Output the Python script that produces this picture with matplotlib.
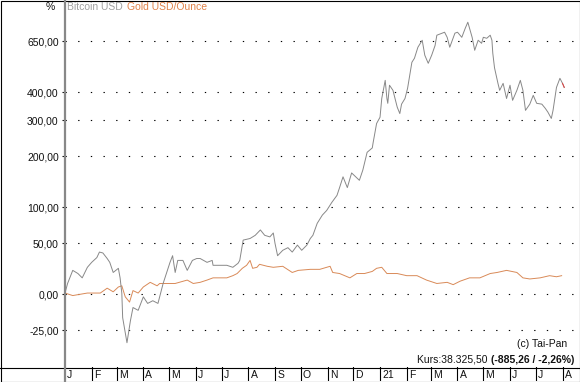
import numpy as np
import matplotlib.pyplot as plt
from matplotlib.lines import Line2D
from matplotlib.patches import Rectangle
from matplotlib.ticker import NullLocator

plt.rcParams['font.family'] = ['Liberation Sans', 'DejaVu Sans']

# Tage seit 01.01.2020 und Veränderung in %
btc_days = [0, 3, 9, 15, 20, 26, 31, 37, 40, 44, 49, 52, 56, 62, 64, 66, 67, 72, 76, 79,
            85, 91, 96, 102, 108, 114, 119, 122, 125, 128, 131, 137, 142, 148, 153, 157, 165, 171, 172, 180,
            188, 195, 201, 203, 207, 215, 221, 227, 232, 238, 242, 244, 247, 253, 259, 264, 270, 275, 281, 285,
            288, 293, 299, 304, 310, 316, 319, 323, 328, 333, 342, 346, 351, 357, 358, 362, 366, 368, 372, 374,
            375, 377, 381, 386, 389, 391, 395, 398, 403, 406, 410, 415, 418, 422, 426, 430, 432, 438, 441, 444,
            447, 453, 456, 461, 465, 468, 473, 476, 480, 484, 486, 490, 494, 496, 497, 499, 503, 505, 509, 513,
            517, 520, 525, 529, 532, 535, 540, 544, 548, 554, 558, 561, 565, 567, 571, 575, 578, 580]
btc_pct = [1, 9, 21, 18, 14, 24, 29, 34, 40, 39, 33, 29, 19, 23, 14, 1, -17, -32, -19, -10,
           -12, -2, -7, -5, -7, 9, 21, 29, 36, 19, 31, 31, 21, 31, 33, 33, 29, 31, 26, 26,
           26, 24, 28, 31, 54, 56, 60, 67, 60, 58, 63, 50, 36, 42, 45, 40, 48, 42, 48, 56,
           60, 76, 88, 95, 108, 120, 134, 155, 134, 163, 148, 169, 210, 221, 235, 290, 310, 376, 450, 376,
           358, 429, 408, 344, 322, 355, 376, 416, 535, 556, 616, 657, 572, 530, 572, 627, 688, 701, 707, 675,
           616, 701, 707, 675, 733, 774, 675, 599, 657, 639, 675, 669, 688, 657, 583, 508, 437, 408, 437, 376,
           429, 369, 408, 450, 408, 333, 355, 388, 358, 355, 340, 327, 306, 333, 420, 459, 437, 420]

gold_days = [0, 9, 26, 41, 49, 56, 62, 66, 70, 75, 79, 85, 91, 99, 107, 110, 118, 128, 142, 149,
             157, 165, 172, 180, 188, 195, 200, 206, 211, 215, 218, 223, 226, 235, 242, 253, 264, 271, 285, 296,
             308, 311, 319, 331, 339, 348, 357, 362, 368, 374, 386, 397, 409, 420, 432, 444, 451, 459, 470, 482,
             494, 502, 513, 525, 532, 540, 552, 563, 571, 577]
gold_pct = [1, -1, 1, 1, 5, 2, 6, 7, -2, -6, 3, 1, 6, 10, 7, 9, 9, 9, 12, 9,
            10, 12, 14, 14, 14, 16, 18, 23, 26, 31, 23, 24, 27, 25, 24, 25, 19, 21, 22, 22,
            25, 19, 18, 14, 18, 18, 20, 23, 24, 18, 18, 16, 16, 12, 9, 10, 8, 11, 14, 14,
            18, 19, 21, 19, 14, 13, 14, 16, 15, 16]

y_ticks = [650, 400, 300, 200, 100, 50, 0, -25]
month_labels = ['J', 'F', 'M', 'A', 'M', 'J', 'J', 'A', 'S', 'O', 'N', 'D',
                '21', 'F', 'M', 'A', 'M', 'J', 'J', 'A']

months = np.arange('2020-01', '2021-09', dtype='datetime64[M]')
month_days = (months.astype('datetime64[D]') - np.datetime64('2020-01-01')).astype(int)

W, H = 580, 382


def fx(px):
    return px / W


def fy(py):
    return 1 - py / H


fig = plt.figure(figsize=(W / 100, H / 100), dpi=100)

ax = fig.add_axes([fx(65), fy(367), fx(578) - fx(65), fy(1) - fy(367)])
ax.set_yscale('log')
btc_ratio = 1 + np.array(btc_pct) / 100
gold_ratio = 1 + np.array(gold_pct) / 100
ax.plot(gold_days, gold_ratio, color='#d98a58', lw=0.7)
ax.plot(btc_days, btc_ratio, color='#888888', lw=0.7)
ax.plot(btc_days[-2:], btc_ratio[-2:], color='#e04040', lw=0.7)

ratio_ticks = 1 + np.array(y_ticks) / 100
for r in ratio_ticks:
    ax.axhline(r, color='black', lw=0.8, linestyle=(0, (1.2, 10.2)), zorder=0)
ax.set_ylim(0.5603, 10.35)
ax.set_xlim(0, 596)
ax.set_yticks(ratio_ticks)
ax.set_yticklabels([f'{v:.2f}'.replace('.', ',') for v in y_ticks])
ax.yaxis.set_minor_locator(NullLocator())
ax.set_xticks([])
ax.tick_params(axis='y', length=2.5, width=0.8, pad=2, labelsize=7.5, colors='#111111')
for s in ax.spines.values():
    s.set_visible(False)

# Monatsleiste
sax = fig.add_axes([fx(65), fy(381), fx(578) - fx(65), fy(367) - fy(381)])
sax.set_xlim(0, 596)
sax.set_ylim(0, 1)
sax.axis('off')
for d, lab in zip(month_days, month_labels):
    if d > 0:
        sax.axvline(d, color='black', lw=0.8)
    sax.text(d + 2.5, 0.45, lab, fontsize=7.5, va='center', ha='left', color='#111111')

# Rahmen und Linien
fig.add_artist(Line2D([0, 1], [fy(367.5), fy(367.5)], color='black', lw=0.8))
fig.add_artist(Line2D([fx(64.5), fx(64.5)], [0, 1], color='#888888', lw=1.6))
fig.add_artist(Rectangle((0.5 / W, 0.5 / H), 1 - 1 / W, 1 - 1 / H, fill=False,
                         edgecolor='black', lw=0.8))

fig.text(fx(55), fy(7), '%', fontsize=7.5, ha='right', va='center', color='#111111')
fig.text(fx(67), fy(7), 'Bitcoin USD', fontsize=7.5, ha='left', va='center', color='#a0a0a0')
fig.text(fx(127), fy(7), 'Gold USD/Ounce', fontsize=7.5, ha='left', va='center', color='#e0824a')

fig.text(fx(567), fy(344), '(c) Tai-Pan', fontsize=7.5, ha='right', va='center', color='#111111')
bold = fig.text(fx(574), fy(360), '(-885,26 / -2,26%)', fontsize=7.5, ha='right', va='center',
                fontweight='bold', color='#111111')
ax.annotate('Kurs:38.325,50 ', xy=(0, 0.5), xycoords=bold, ha='right', va='center',
            fontsize=7.5, color='#111111', annotation_clip=False)

fig.savefig('out.png', dpi=100)
